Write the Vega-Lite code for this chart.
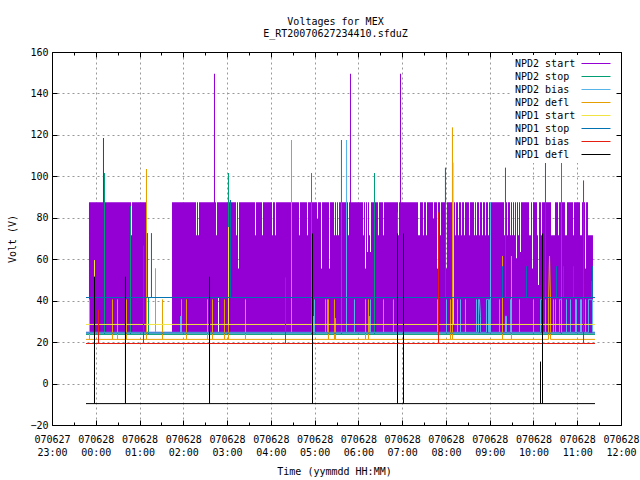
{"$schema":"https://vega.github.io/schema/vega-lite/v6.json","autosize":"none","width":569,"height":373,"padding":{"left":53,"top":53,"right":18,"bottom":54},"background":"white",
"title":{"text":["Voltages for MEX","E_RT20070627234410.sfduZ"],"font":"DejaVu Sans Mono","fontSize":10,"fontWeight":"normal","lineHeight":12.5,"anchor":"middle","dx":-2,"offset":9,"color":"black"},
"config":{"view":{"stroke":null},"axis":{"translate":-0.5,"labelFont":"DejaVu Sans Mono","titleFont":"DejaVu Sans Mono","labelFontSize":10,"titleFontSize":10,"titleFontWeight":"normal","labelColor":"black","titleColor":"black","domainColor":"black","tickColor":"black"},"legend":{"labelFont":"DejaVu Sans Mono","labelFontSize":10}},
"resolve":{"axis":{"x":"independent","y":"independent"}},
"layer":[
{"data":{"values":[
{"hour":-0.178,"high":88,"low":25.2},{"hour":0.142,"high":119,"low":25.2},{"hour":0.165,"high":88,"low":25.2},{"hour":0.782,"high":72,"low":25.2},{"hour":0.805,"high":88,"low":25.2},{"hour":1.125,"high":25.2,"low":25.2},{"hour":1.719,"high":88,"low":25.2},
{"hour":2.267,"high":72,"low":25.2},{"hour":2.290,"high":88,"low":25.2},{"hour":2.313,"high":72,"low":25.2},{"hour":2.336,"high":88,"low":25.2},{"hour":2.678,"high":150,"low":25.2},{"hour":2.701,"high":88,"low":25.2},{"hour":2.724,"high":72,"low":25.2},{"hour":2.747,"high":88,"low":25.2},{"hour":2.770,"high":88,"low":42},{"hour":2.793,"high":88,"low":25.2},
{"hour":3.181,"high":72,"low":25.2},{"hour":3.204,"high":88,"low":25.2},{"hour":3.227,"high":56,"low":25.2},{"hour":3.250,"high":88,"low":25.2},{"hour":3.615,"high":72,"low":25.2},{"hour":3.638,"high":88,"low":25.2},{"hour":3.775,"high":72,"low":25.2},{"hour":3.798,"high":88,"low":25.2},{"hour":4.004,"high":72,"low":25.2},{"hour":4.026,"high":88,"low":25.2},{"hour":4.072,"high":72,"low":25.2},{"hour":4.095,"high":88,"low":25.2},{"hour":4.438,"high":72,"low":25.2},{"hour":4.460,"high":88,"low":25.2},{"hour":4.620,"high":72,"low":25.2},{"hour":4.643,"high":88,"low":25.2},{"hour":4.803,"high":72,"low":25.2},{"hour":4.826,"high":88,"low":25.2},
{"hour":5.032,"high":80,"low":25.2},{"hour":5.055,"high":88,"low":25.2},{"hour":5.123,"high":56,"low":25.2},{"hour":5.146,"high":88,"low":25.2},{"hour":5.306,"high":56,"low":25.2},{"hour":5.329,"high":88,"low":25.2},{"hour":5.420,"high":72,"low":25.2},{"hour":5.443,"high":88,"low":25.2},{"hour":5.466,"high":72,"low":25.2},{"hour":5.489,"high":88,"low":25.2},{"hour":5.511,"high":72,"low":25.2},{"hour":5.534,"high":88,"low":25.2},{"hour":5.740,"high":72,"low":25.2},{"hour":5.763,"high":88,"low":25.2},{"hour":5.786,"high":150,"low":25.2},{"hour":5.808,"high":88,"low":25.2},
{"hour":6.083,"high":72,"low":25.2},{"hour":6.105,"high":88,"low":25.2},{"hour":6.128,"high":56,"low":25.2},{"hour":6.151,"high":88,"low":25.2},{"hour":6.174,"high":64,"low":25.2},{"hour":6.197,"high":88,"low":25.2},{"hour":6.220,"high":72,"low":25.2},{"hour":6.243,"high":64,"low":25.2},{"hour":6.265,"high":88,"low":25.2},{"hour":6.425,"high":72,"low":25.2},{"hour":6.448,"high":88,"low":25.2},{"hour":6.540,"high":72,"low":25.2},{"hour":6.562,"high":88,"low":25.2},{"hour":6.882,"high":72,"low":25.2},{"hour":6.905,"high":88,"low":25.2},{"hour":6.928,"high":150,"low":25.2},{"hour":6.951,"high":88,"low":25.2},
{"hour":7.339,"high":72,"low":25.2},{"hour":7.385,"high":88,"low":25.2},{"hour":7.453,"high":72,"low":25.2},{"hour":7.476,"high":88,"low":25.2},{"hour":7.522,"high":72,"low":25.2},{"hour":7.545,"high":88,"low":25.2},{"hour":7.682,"high":80,"low":25.2},{"hour":7.705,"high":88,"low":25.2},{"hour":7.773,"high":56,"low":25.2},{"hour":7.796,"high":88,"low":25.2},{"hour":7.842,"high":72,"low":25.2},{"hour":7.865,"high":88,"low":25.2},{"hour":7.979,"high":56,"low":25.2},{"hour":8.002,"high":88,"low":25.2},
{"hour":8.185,"high":72,"low":25.2},{"hour":8.207,"high":88,"low":25.2},{"hour":8.253,"high":72,"low":25.2},{"hour":8.276,"high":88,"low":25.2},{"hour":8.322,"high":72,"low":25.2},{"hour":8.345,"high":88,"low":25.2},{"hour":8.390,"high":72,"low":25.2},{"hour":8.413,"high":88,"low":25.2},{"hour":8.504,"high":72,"low":25.2},{"hour":8.527,"high":88,"low":25.2},{"hour":8.619,"high":72,"low":25.2},{"hour":8.642,"high":88,"low":25.2},{"hour":8.664,"high":72,"low":25.2},{"hour":8.687,"high":88,"low":25.2},{"hour":8.733,"high":72,"low":25.2},{"hour":8.756,"high":88,"low":25.2},{"hour":8.802,"high":72,"low":25.2},{"hour":8.824,"high":88,"low":25.2},{"hour":8.870,"high":72,"low":25.2},{"hour":8.893,"high":88,"low":25.2},{"hour":8.939,"high":72,"low":25.2},{"hour":8.962,"high":88,"low":25.2},
{"hour":9.304,"high":72,"low":25.2},{"hour":9.327,"high":88,"low":25.2},{"hour":9.373,"high":72,"low":25.2},{"hour":9.395,"high":88,"low":25.2},{"hour":9.441,"high":72,"low":25.2},{"hour":9.464,"high":88,"low":25.2},{"hour":9.487,"high":72,"low":25.2},{"hour":9.510,"high":88,"low":25.2},{"hour":9.533,"high":72,"low":25.2},{"hour":9.555,"high":88,"low":25.2},{"hour":9.578,"high":61,"low":25.2},{"hour":9.601,"high":88,"low":25.2},{"hour":9.624,"high":72,"low":25.2},{"hour":9.647,"high":88,"low":25.2},{"hour":9.670,"high":64,"low":25.2},{"hour":9.692,"high":88,"low":25.2},{"hour":9.875,"high":72,"low":25.2},{"hour":9.921,"high":88,"low":25.2},{"hour":9.944,"high":56,"low":25.2},{"hour":9.967,"high":88,"low":25.2},
{"hour":10.058,"high":72,"low":25.2},{"hour":10.081,"high":48,"low":25.2},{"hour":10.104,"high":88,"low":25.2},{"hour":10.149,"high":72,"low":25.2},{"hour":10.172,"high":88,"low":25.2},{"hour":10.378,"high":72,"low":25.2},{"hour":10.469,"high":88,"low":25.2},{"hour":10.538,"high":72,"low":25.2},{"hour":10.561,"high":88,"low":25.2},{"hour":10.606,"high":72,"low":25.2},{"hour":10.629,"high":88,"low":25.2},{"hour":10.698,"high":72,"low":25.2},{"hour":10.743,"high":88,"low":25.2},{"hour":10.881,"high":72,"low":25.2},{"hour":10.903,"high":88,"low":25.2},{"hour":11.040,"high":72,"low":25.2},{"hour":11.086,"high":88,"low":25.2},{"hour":11.155,"high":56,"low":25.2},{"hour":11.178,"high":88,"low":25.2},{"hour":11.223,"high":72,"low":25.2},{"hour":11.337,"high":72,"low":25.2}
]},
"mark":{"type":"area","interpolate":"step-after","color":"#9400d3"},
"encoding":{
"x":{"field":"hour","type":"quantitative","scale":{"domain":[-1,12],"nice":false,"zero":false},"title":"Time (yymmdd HH:MM)",
"axis":{"orient":"bottom","values":[-1,-0.5,0,0.5,1,1.5,2,2.5,3,3.5,4,4.5,5,5.5,6,6.5,7,7.5,8,8.5,9,9.5,10,10.5,11,11.5,12],"labelExpr":"datum.value%1!=0?'':[datum.value<0?'070627':'070628',datum.value<0?'23:00':(datum.value<10?'0':'')+datum.value+':00']","labelLineHeight":13,"labelOverlap":false,"labelBound":false,"labelFlush":false,"labelAngle":0,"labelPadding":14,"titlePadding":9,"titleX":282,"tickSize":{"condition":{"test":"datum.value%1==0","value":-5},"value":-3},"grid":true,"gridColor":"#999999","gridDash":[2,3],"gridWidth":1,"gridOpacity":{"condition":{"test":"datum.value%1==0","value":1},"value":0}}},
"y":{"field":"high","type":"quantitative","scale":{"domain":[-20,160],"nice":false,"zero":false},"title":"Volt (V)",
"axis":{"orient":"left","values":[-20,0,20,40,60,80,100,120,140,160],"tickSize":-5,"labelPadding":9,"titlePadding":12,"grid":true,"gridColor":"#999999","gridDash":[2,3],"gridWidth":1}},
"y2":{"field":"low"}}},
{"data":{"values":[
{"series":"NPD2 start","hour":-0.246,"volt":25.2},{"series":"NPD2 start","hour":11.383,"volt":25.2},
{"series":"NPD2 stop","hour":-0.246,"volt":24.2},{"series":"NPD2 stop","hour":0.177,"volt":24.2},{"series":"NPD2 stop","hour":0.177,"volt":102},{"series":"NPD2 stop","hour":0.177,"volt":24.2},{"series":"NPD2 stop","hour":0.771,"volt":24.2},{"series":"NPD2 stop","hour":0.771,"volt":86},{"series":"NPD2 stop","hour":0.771,"volt":24.2},{"series":"NPD2 stop","hour":1.182,"volt":24.2},{"series":"NPD2 stop","hour":1.182,"volt":42},{"series":"NPD2 stop","hour":1.182,"volt":24.2},{"series":"NPD2 stop","hour":3.010,"volt":24.2},{"series":"NPD2 stop","hour":3.010,"volt":102},{"series":"NPD2 stop","hour":3.010,"volt":24.2},{"series":"NPD2 stop","hour":4.906,"volt":24.2},{"series":"NPD2 stop","hour":4.906,"volt":102},{"series":"NPD2 stop","hour":4.906,"volt":24.2},{"series":"NPD2 stop","hour":5.591,"volt":24.2},{"series":"NPD2 stop","hour":5.591,"volt":118},{"series":"NPD2 stop","hour":5.591,"volt":24.2},{"series":"NPD2 stop","hour":6.345,"volt":24.2},{"series":"NPD2 stop","hour":6.345,"volt":102},{"series":"NPD2 stop","hour":6.345,"volt":24.2},{"series":"NPD2 stop","hour":10.618,"volt":24.2},{"series":"NPD2 stop","hour":10.618,"volt":118},{"series":"NPD2 stop","hour":10.618,"volt":24.2},{"series":"NPD2 stop","hour":11.383,"volt":24.2},
{"series":"NPD2 bias","hour":-0.246,"volt":25.2},{"series":"NPD2 bias","hour":1.342,"volt":25.2},{"series":"NPD2 bias","hour":1.342,"volt":56},{"series":"NPD2 bias","hour":1.342,"volt":25.2},{"series":"NPD2 bias","hour":1.913,"volt":25.2},{"series":"NPD2 bias","hour":1.913,"volt":33},{"series":"NPD2 bias","hour":1.913,"volt":25.2},{"series":"NPD2 bias","hour":1.936,"volt":25.2},{"series":"NPD2 bias","hour":1.936,"volt":41},{"series":"NPD2 bias","hour":1.936,"volt":25.2},{"series":"NPD2 bias","hour":4.449,"volt":25.2},{"series":"NPD2 bias","hour":4.449,"volt":118},{"series":"NPD2 bias","hour":4.449,"volt":25.2},{"series":"NPD2 bias","hour":4.952,"volt":25.2},{"series":"NPD2 bias","hour":4.952,"volt":33},{"series":"NPD2 bias","hour":4.952,"volt":25.2},{"series":"NPD2 bias","hour":4.975,"volt":25.2},{"series":"NPD2 bias","hour":4.975,"volt":41},{"series":"NPD2 bias","hour":4.975,"volt":25.2},{"series":"NPD2 bias","hour":5.226,"volt":25.2},{"series":"NPD2 bias","hour":5.226,"volt":41},{"series":"NPD2 bias","hour":5.226,"volt":25.2},{"series":"NPD2 bias","hour":5.272,"volt":25.2},{"series":"NPD2 bias","hour":5.272,"volt":41},{"series":"NPD2 bias","hour":5.272,"volt":25.2},{"series":"NPD2 bias","hour":5.706,"volt":25.2},{"series":"NPD2 bias","hour":5.706,"volt":118},{"series":"NPD2 bias","hour":5.706,"volt":25.2},{"series":"NPD2 bias","hour":5.888,"volt":25.2},{"series":"NPD2 bias","hour":5.888,"volt":41},{"series":"NPD2 bias","hour":5.888,"volt":25.2},{"series":"NPD2 bias","hour":6.231,"volt":25.2},{"series":"NPD2 bias","hour":6.231,"volt":33},{"series":"NPD2 bias","hour":6.231,"volt":25.2},{"series":"NPD2 bias","hour":6.254,"volt":25.2},{"series":"NPD2 bias","hour":6.254,"volt":41},{"series":"NPD2 bias","hour":6.254,"volt":25.2},{"series":"NPD2 bias","hour":6.551,"volt":25.2},{"series":"NPD2 bias","hour":6.551,"volt":41},{"series":"NPD2 bias","hour":6.551,"volt":25.2},{"series":"NPD2 bias","hour":6.779,"volt":25.2},{"series":"NPD2 bias","hour":6.779,"volt":41},{"series":"NPD2 bias","hour":6.779,"volt":25.2},{"series":"NPD2 bias","hour":7.785,"volt":25.2},{"series":"NPD2 bias","hour":7.785,"volt":41},{"series":"NPD2 bias","hour":7.785,"volt":25.2},{"series":"NPD2 bias","hour":7.990,"volt":25.2},{"series":"NPD2 bias","hour":7.990,"volt":41},{"series":"NPD2 bias","hour":7.990,"volt":25.2},{"series":"NPD2 bias","hour":8.242,"volt":25.2},{"series":"NPD2 bias","hour":8.242,"volt":41},{"series":"NPD2 bias","hour":8.242,"volt":25.2},{"series":"NPD2 bias","hour":8.310,"volt":25.2},{"series":"NPD2 bias","hour":8.310,"volt":41},{"series":"NPD2 bias","hour":8.310,"volt":25.2},{"series":"NPD2 bias","hour":8.424,"volt":25.2},{"series":"NPD2 bias","hour":8.424,"volt":41},{"series":"NPD2 bias","hour":8.424,"volt":25.2},{"series":"NPD2 bias","hour":8.676,"volt":25.2},{"series":"NPD2 bias","hour":8.676,"volt":41},{"series":"NPD2 bias","hour":8.676,"volt":25.2},{"series":"NPD2 bias","hour":8.721,"volt":25.2},{"series":"NPD2 bias","hour":8.721,"volt":41},{"series":"NPD2 bias","hour":8.744,"volt":41},{"series":"NPD2 bias","hour":8.767,"volt":33},{"series":"NPD2 bias","hour":8.767,"volt":25.2},{"series":"NPD2 bias","hour":8.904,"volt":25.2},{"series":"NPD2 bias","hour":8.904,"volt":41},{"series":"NPD2 bias","hour":8.927,"volt":41},{"series":"NPD2 bias","hour":8.950,"volt":41},{"series":"NPD2 bias","hour":8.950,"volt":25.2},{"series":"NPD2 bias","hour":8.973,"volt":25.2},{"series":"NPD2 bias","hour":8.973,"volt":41},{"series":"NPD2 bias","hour":8.973,"volt":25.2},{"series":"NPD2 bias","hour":8.996,"volt":25.2},{"series":"NPD2 bias","hour":8.996,"volt":88},{"series":"NPD2 bias","hour":8.996,"volt":25.2},{"series":"NPD2 bias","hour":9.201,"volt":25.2},{"series":"NPD2 bias","hour":9.201,"volt":41},{"series":"NPD2 bias","hour":9.201,"volt":25.2},{"series":"NPD2 bias","hour":9.338,"volt":25.2},{"series":"NPD2 bias","hour":9.338,"volt":33},{"series":"NPD2 bias","hour":9.361,"volt":33},{"series":"NPD2 bias","hour":9.361,"volt":25.2},{"series":"NPD2 bias","hour":9.453,"volt":25.2},{"series":"NPD2 bias","hour":9.453,"volt":41},{"series":"NPD2 bias","hour":9.475,"volt":41},{"series":"NPD2 bias","hour":9.475,"volt":25.2},{"series":"NPD2 bias","hour":9.658,"volt":25.2},{"series":"NPD2 bias","hour":9.658,"volt":41},{"series":"NPD2 bias","hour":9.658,"volt":25.2},{"series":"NPD2 bias","hour":9.978,"volt":25.2},{"series":"NPD2 bias","hour":9.978,"volt":41},{"series":"NPD2 bias","hour":9.978,"volt":25.2},{"series":"NPD2 bias","hour":10.138,"volt":25.2},{"series":"NPD2 bias","hour":10.138,"volt":41},{"series":"NPD2 bias","hour":10.161,"volt":41},{"series":"NPD2 bias","hour":10.184,"volt":41},{"series":"NPD2 bias","hour":10.184,"volt":25.2},{"series":"NPD2 bias","hour":10.252,"volt":25.2},{"series":"NPD2 bias","hour":10.252,"volt":41},{"series":"NPD2 bias","hour":10.252,"volt":25.2},{"series":"NPD2 bias","hour":10.435,"volt":25.2},{"series":"NPD2 bias","hour":10.435,"volt":41},{"series":"NPD2 bias","hour":10.435,"volt":25.2},{"series":"NPD2 bias","hour":10.481,"volt":25.2},{"series":"NPD2 bias","hour":10.481,"volt":41},{"series":"NPD2 bias","hour":10.481,"volt":25.2},{"series":"NPD2 bias","hour":10.572,"volt":25.2},{"series":"NPD2 bias","hour":10.572,"volt":41},{"series":"NPD2 bias","hour":10.595,"volt":41},{"series":"NPD2 bias","hour":10.618,"volt":41},{"series":"NPD2 bias","hour":10.618,"volt":25.2},{"series":"NPD2 bias","hour":10.732,"volt":25.2},{"series":"NPD2 bias","hour":10.732,"volt":41},{"series":"NPD2 bias","hour":10.732,"volt":25.2},{"series":"NPD2 bias","hour":10.824,"volt":25.2},{"series":"NPD2 bias","hour":10.824,"volt":41},{"series":"NPD2 bias","hour":10.824,"volt":25.2},{"series":"NPD2 bias","hour":10.938,"volt":25.2},{"series":"NPD2 bias","hour":10.938,"volt":41},{"series":"NPD2 bias","hour":10.961,"volt":41},{"series":"NPD2 bias","hour":10.961,"volt":25.2},{"series":"NPD2 bias","hour":11.052,"volt":25.2},{"series":"NPD2 bias","hour":11.052,"volt":41},{"series":"NPD2 bias","hour":11.075,"volt":41},{"series":"NPD2 bias","hour":11.075,"volt":25.2},{"series":"NPD2 bias","hour":11.166,"volt":25.2},{"series":"NPD2 bias","hour":11.166,"volt":41},{"series":"NPD2 bias","hour":11.166,"volt":25.2},{"series":"NPD2 bias","hour":11.235,"volt":25.2},{"series":"NPD2 bias","hour":11.235,"volt":41},{"series":"NPD2 bias","hour":11.258,"volt":41},{"series":"NPD2 bias","hour":11.280,"volt":41},{"series":"NPD2 bias","hour":11.303,"volt":41},{"series":"NPD2 bias","hour":11.326,"volt":41},{"series":"NPD2 bias","hour":11.326,"volt":25.2},{"series":"NPD2 bias","hour":11.383,"volt":25.2},
{"series":"NPD2 defl","hour":-0.246,"volt":21.8},{"series":"NPD2 defl","hour":-0.166,"volt":21.8},{"series":"NPD2 defl","hour":-0.166,"volt":41},{"series":"NPD2 defl","hour":-0.166,"volt":21.8},{"series":"NPD2 defl","hour":0.359,"volt":21.8},{"series":"NPD2 defl","hour":0.359,"volt":41},{"series":"NPD2 defl","hour":0.359,"volt":21.8},{"series":"NPD2 defl","hour":0.474,"volt":21.8},{"series":"NPD2 defl","hour":0.474,"volt":41},{"series":"NPD2 defl","hour":0.474,"volt":21.8},{"series":"NPD2 defl","hour":0.679,"volt":21.8},{"series":"NPD2 defl","hour":0.679,"volt":41},{"series":"NPD2 defl","hour":0.679,"volt":21.8},{"series":"NPD2 defl","hour":1.136,"volt":21.8},{"series":"NPD2 defl","hour":1.136,"volt":104},{"series":"NPD2 defl","hour":1.136,"volt":21.8},{"series":"NPD2 defl","hour":1.502,"volt":21.8},{"series":"NPD2 defl","hour":1.502,"volt":41},{"series":"NPD2 defl","hour":1.502,"volt":21.8},{"series":"NPD2 defl","hour":2.050,"volt":21.8},{"series":"NPD2 defl","hour":2.050,"volt":41},{"series":"NPD2 defl","hour":2.050,"volt":21.8},{"series":"NPD2 defl","hour":2.530,"volt":21.8},{"series":"NPD2 defl","hour":2.530,"volt":41},{"series":"NPD2 defl","hour":2.530,"volt":21.8},{"series":"NPD2 defl","hour":2.644,"volt":21.8},{"series":"NPD2 defl","hour":2.644,"volt":41},{"series":"NPD2 defl","hour":2.644,"volt":21.8},{"series":"NPD2 defl","hour":2.918,"volt":21.8},{"series":"NPD2 defl","hour":2.918,"volt":41},{"series":"NPD2 defl","hour":2.918,"volt":21.8},{"series":"NPD2 defl","hour":3.010,"volt":21.8},{"series":"NPD2 defl","hour":3.010,"volt":41},{"series":"NPD2 defl","hour":3.010,"volt":21.8},{"series":"NPD2 defl","hour":3.398,"volt":21.8},{"series":"NPD2 defl","hour":3.398,"volt":41},{"series":"NPD2 defl","hour":3.398,"volt":21.8},{"series":"NPD2 defl","hour":5.294,"volt":21.8},{"series":"NPD2 defl","hour":5.294,"volt":41},{"series":"NPD2 defl","hour":5.294,"volt":21.8},{"series":"NPD2 defl","hour":5.431,"volt":21.8},{"series":"NPD2 defl","hour":5.431,"volt":41},{"series":"NPD2 defl","hour":5.431,"volt":21.8},{"series":"NPD2 defl","hour":5.454,"volt":21.8},{"series":"NPD2 defl","hour":5.454,"volt":32},{"series":"NPD2 defl","hour":5.454,"volt":21.8},{"series":"NPD2 defl","hour":6.140,"volt":21.8},{"series":"NPD2 defl","hour":6.140,"volt":41},{"series":"NPD2 defl","hour":6.140,"volt":21.8},{"series":"NPD2 defl","hour":6.208,"volt":21.8},{"series":"NPD2 defl","hour":6.208,"volt":41},{"series":"NPD2 defl","hour":6.208,"volt":21.8},{"series":"NPD2 defl","hour":8.082,"volt":21.8},{"series":"NPD2 defl","hour":8.082,"volt":41},{"series":"NPD2 defl","hour":8.082,"volt":21.8},{"series":"NPD2 defl","hour":8.127,"volt":21.8},{"series":"NPD2 defl","hour":8.127,"volt":124},{"series":"NPD2 defl","hour":8.127,"volt":21.8},{"series":"NPD2 defl","hour":9.270,"volt":21.8},{"series":"NPD2 defl","hour":9.270,"volt":62},{"series":"NPD2 defl","hour":9.270,"volt":21.8},{"series":"NPD2 defl","hour":9.475,"volt":21.8},{"series":"NPD2 defl","hour":9.475,"volt":62},{"series":"NPD2 defl","hour":9.475,"volt":21.8},{"series":"NPD2 defl","hour":10.321,"volt":21.8},{"series":"NPD2 defl","hour":10.321,"volt":41},{"series":"NPD2 defl","hour":10.344,"volt":62},{"series":"NPD2 defl","hour":10.367,"volt":41},{"series":"NPD2 defl","hour":10.367,"volt":21.8},{"series":"NPD2 defl","hour":11.383,"volt":21.8},
{"series":"NPD1 start","hour":-0.246,"volt":29},{"series":"NPD1 start","hour":-0.052,"volt":29},{"series":"NPD1 start","hour":-0.052,"volt":60},{"series":"NPD1 start","hour":-0.052,"volt":29},{"series":"NPD1 start","hour":3.010,"volt":29},{"series":"NPD1 start","hour":3.010,"volt":76},{"series":"NPD1 start","hour":3.010,"volt":29},{"series":"NPD1 start","hour":8.150,"volt":29},{"series":"NPD1 start","hour":8.150,"volt":107},{"series":"NPD1 start","hour":8.150,"volt":29},{"series":"NPD1 start","hour":11.383,"volt":29},
{"series":"NPD1 stop","run":"low","hour":-0.246,"volt":24.8},{"series":"NPD1 stop","run":"low","hour":11.383,"volt":24.8},
{"series":"NPD1 stop","hour":-0.246,"volt":42},{"series":"NPD1 stop","hour":1.159,"volt":42},{"series":"NPD1 stop","hour":1.159,"volt":73},{"series":"NPD1 stop","hour":1.159,"volt":42},{"series":"NPD1 stop","hour":1.250,"volt":42},{"series":"NPD1 stop","hour":1.250,"volt":73},{"series":"NPD1 stop","hour":1.250,"volt":42},{"series":"NPD1 stop","hour":3.055,"volt":42},{"series":"NPD1 stop","hour":3.055,"volt":89},{"series":"NPD1 stop","hour":3.055,"volt":42},{"series":"NPD1 stop","hour":7.967,"volt":42},{"series":"NPD1 stop","hour":7.967,"volt":104.6},{"series":"NPD1 stop","hour":7.967,"volt":42},{"series":"NPD1 stop","hour":9.270,"volt":42},{"series":"NPD1 stop","hour":9.270,"volt":57},{"series":"NPD1 stop","hour":9.270,"volt":42},{"series":"NPD1 stop","hour":9.338,"volt":42},{"series":"NPD1 stop","hour":9.338,"volt":104.6},{"series":"NPD1 stop","hour":9.338,"volt":42},{"series":"NPD1 stop","hour":9.818,"volt":42},{"series":"NPD1 stop","hour":9.818,"volt":57},{"series":"NPD1 stop","hour":9.818,"volt":42},{"series":"NPD1 stop","hour":10.252,"volt":42},{"series":"NPD1 stop","hour":10.252,"volt":120},{"series":"NPD1 stop","hour":10.252,"volt":42},{"series":"NPD1 stop","hour":10.504,"volt":42},{"series":"NPD1 stop","hour":10.504,"volt":57},{"series":"NPD1 stop","hour":10.504,"volt":42},{"series":"NPD1 stop","hour":10.664,"volt":42},{"series":"NPD1 stop","hour":10.664,"volt":57},{"series":"NPD1 stop","hour":10.664,"volt":42},{"series":"NPD1 stop","hour":10.892,"volt":42},{"series":"NPD1 stop","hour":10.892,"volt":57},{"series":"NPD1 stop","hour":10.892,"volt":42},{"series":"NPD1 stop","hour":11.303,"volt":42},{"series":"NPD1 stop","hour":11.303,"volt":50},{"series":"NPD1 stop","hour":11.303,"volt":42},{"series":"NPD1 stop","hour":11.326,"volt":42},{"series":"NPD1 stop","hour":11.326,"volt":57},{"series":"NPD1 stop","hour":11.326,"volt":42},{"series":"NPD1 stop","hour":11.383,"volt":42},
{"series":"NPD1 bias","hour":-0.246,"volt":19.8},{"series":"NPD1 bias","hour":0.040,"volt":19.8},{"series":"NPD1 bias","hour":0.040,"volt":36},{"series":"NPD1 bias","hour":0.040,"volt":19.8},{"series":"NPD1 bias","hour":1.068,"volt":19.8},{"series":"NPD1 bias","hour":1.068,"volt":67},{"series":"NPD1 bias","hour":1.068,"volt":19.8},{"series":"NPD1 bias","hour":4.312,"volt":19.8},{"series":"NPD1 bias","hour":4.312,"volt":51.6},{"series":"NPD1 bias","hour":4.312,"volt":19.8},{"series":"NPD1 bias","hour":6.871,"volt":19.8},{"series":"NPD1 bias","hour":6.871,"volt":83},{"series":"NPD1 bias","hour":6.871,"volt":19.8},{"series":"NPD1 bias","hour":7.808,"volt":19.8},{"series":"NPD1 bias","hour":7.808,"volt":83},{"series":"NPD1 bias","hour":7.808,"volt":19.8},{"series":"NPD1 bias","hour":11.121,"volt":19.8},{"series":"NPD1 bias","hour":11.121,"volt":98.4},{"series":"NPD1 bias","hour":11.121,"volt":19.8},{"series":"NPD1 bias","hour":11.383,"volt":19.8},
{"series":"NPD1 defl","hour":-0.246,"volt":-9.2},{"series":"NPD1 defl","hour":-0.052,"volt":-9.2},{"series":"NPD1 defl","hour":-0.052,"volt":52},{"series":"NPD1 defl","hour":-0.052,"volt":-9.2},{"series":"NPD1 defl","hour":0.656,"volt":-9.2},{"series":"NPD1 defl","hour":0.656,"volt":52},{"series":"NPD1 defl","hour":0.656,"volt":-9.2},{"series":"NPD1 defl","hour":2.576,"volt":-9.2},{"series":"NPD1 defl","hour":2.576,"volt":52},{"series":"NPD1 defl","hour":2.576,"volt":-9.2},{"series":"NPD1 defl","hour":4.929,"volt":-9.2},{"series":"NPD1 defl","hour":4.929,"volt":72.8},{"series":"NPD1 defl","hour":4.929,"volt":-9.2},{"series":"NPD1 defl","hour":6.871,"volt":-9.2},{"series":"NPD1 defl","hour":6.871,"volt":72.8},{"series":"NPD1 defl","hour":6.871,"volt":-9.2},{"series":"NPD1 defl","hour":7.008,"volt":-9.2},{"series":"NPD1 defl","hour":7.008,"volt":72.8},{"series":"NPD1 defl","hour":7.008,"volt":-9.2},{"series":"NPD1 defl","hour":10.138,"volt":-9.2},{"series":"NPD1 defl","hour":10.138,"volt":11},{"series":"NPD1 defl","hour":10.138,"volt":-9.2},{"series":"NPD1 defl","hour":10.184,"volt":-9.2},{"series":"NPD1 defl","hour":10.184,"volt":72.8},{"series":"NPD1 defl","hour":10.184,"volt":-9.2},{"series":"NPD1 defl","hour":11.383,"volt":-9.2}
]},
"mark":{"type":"line","strokeWidth":1,"interpolate":"linear"},
"encoding":{
"x":{"field":"hour","type":"quantitative","axis":{"orient":"top","values":[-1,-0.5,0,0.5,1,1.5,2,2.5,3,3.5,4,4.5,5,5.5,6,6.5,7,7.5,8,8.5,9,9.5,10,10.5,11,11.5,12],"labels":false,"title":null,"grid":false,"tickSize":{"condition":{"test":"datum.value%1==0","value":-5},"value":-3}}},
"y":{"field":"volt","type":"quantitative","axis":{"orient":"right","values":[-20,0,20,40,60,80,100,120,140,160],"labels":false,"title":null,"grid":false,"tickSize":-5}},
"detail":{"field":"run"},
"color":{"field":"series","type":"nominal","legend":{"orient":"none","legendX":458,"legendY":2,"title":null,"symbolType":"stroke","symbolSize":10,"symbolStrokeWidth":1,"fillColor":"white","padding":2,"rowPadding":0,"clipHeight":13,"zindex":0,"labelFontSize":10,"labelColor":"black","labelLimit":100,"encode":{"entries":{"update":{"width":{"value":100},"height":{"value":13}}},"symbols":{"update":{"size":{"value":841},"x":{"value":83}}},"labels":{"update":{"x":{"value":2},"align":{"value":"left"}}},"legend":{"update":{"width":{"value":100}}}}},"scale":{"domain":["NPD2 start","NPD2 stop","NPD2 bias","NPD2 defl","NPD1 start","NPD1 stop","NPD1 bias","NPD1 defl"],"range":["#9400d3","#009e73","#56b4e9","#e69f00","#f0e442","#0072b2","#e51e10","#000000"]}}}}
]}
